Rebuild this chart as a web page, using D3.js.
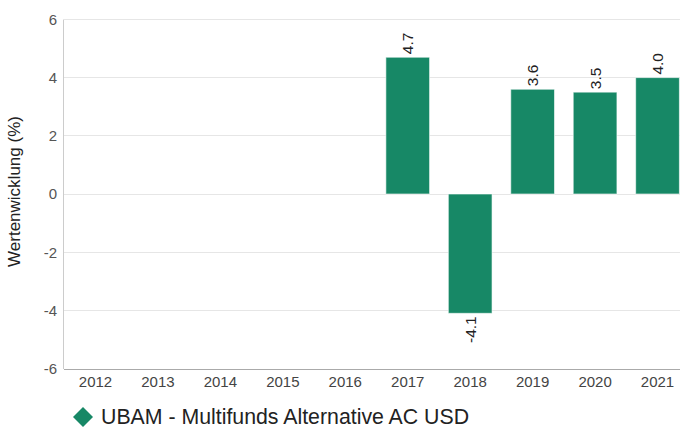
<!DOCTYPE html>
<html><head><meta charset="utf-8">
<script src="https://cdn.jsdelivr.net/npm/d3@7/dist/d3.min.js"></script>
<style>body{margin:0;background:#fff;}svg{display:block;font-family:"Liberation Sans",Arial,sans-serif;}</style>
</head><body>
<svg id="c" width="680" height="428"></svg>
<script>
const years = ["2012","2013","2014","2015","2016","2017","2018","2019","2020","2021"];
const values = [null,null,null,null,null,4.7,-4.1,3.6,3.5,4.0];
const yTicks = [-6,-4,-2,0,2,4,6];
const seriesName = "UBAM - Multifunds Alternative AC USD";
const yTitle = "Wertenwicklung (%)";
const color = "#178866";

const loc = d3.formatLocale({decimal: ".", thousands: ",", grouping: [3], currency: ["", ""], minus: "-"});
const svg = d3.select("#c");
const mLeft = 63, mRight = 690, mTop = 19.4, mBottom = 368.6;
const x = d3.scaleBand().domain(years).range([mLeft, mRight]).paddingInner(0.3).paddingOuter(0.17);
const y = d3.scaleLinear().domain([-6, 6]).range([mBottom, mTop]);

// gridlines
svg.append("g").selectAll("line").data(yTicks.filter(d => d !== -6)).join("line")
  .attr("x1", mLeft).attr("x2", 680).attr("y1", d => y(d)).attr("y2", d => y(d))
  .attr("stroke", "#e6e6e6").attr("stroke-width", 1).attr("shape-rendering", "crispEdges");

// y axis
const yAxis = svg.append("g").attr("transform", `translate(${mLeft},0)`)
  .call(d3.axisLeft(y).tickValues(yTicks).tickSize(0).tickPadding(6).tickFormat(loc.format("d")));
yAxis.select(".domain").attr("stroke", "#cccccc").attr("shape-rendering", "crispEdges");
yAxis.selectAll("text").attr("font-size", 15).attr("fill", "#555").attr("font-family", "Liberation Sans, Arial, sans-serif");

// x axis
const xAxis = svg.append("g").attr("transform", `translate(0,${mBottom})`)
  .call(d3.axisBottom(x).tickSize(0).tickPadding(8));
xAxis.select(".domain").attr("stroke", "#aaaaaa").attr("shape-rendering", "crispEdges");
xAxis.selectAll("text").attr("font-size", 15).attr("fill", "#444").attr("font-family", "Liberation Sans, Arial, sans-serif");

// bars
const data = years.map((yr, i) => ({yr, v: values[i]})).filter(d => d.v !== null);
svg.append("g").selectAll("rect").data(data).join("rect")
  .attr("x", d => x(d.yr)).attr("width", x.bandwidth())
  .attr("y", d => y(Math.max(0, d.v))).attr("height", d => Math.abs(y(d.v) - y(0)))
  .attr("fill", color).attr("stroke", "#ffffff").attr("stroke-opacity", 0.6).attr("stroke-width", 1);

// value labels
svg.append("g").selectAll("text").data(data).join("text")
  .attr("transform", d => {
    const cx = x(d.yr) + x.bandwidth() / 2;
    const yy = d.v >= 0 ? y(d.v) - 3 : y(d.v) + 3;
    return `translate(${cx},${yy}) rotate(-90)`;
  })
  .attr("text-anchor", d => d.v >= 0 ? "start" : "end")
  .attr("dy", "0.35em")
  .attr("font-size", 15.5).attr("fill", "#222")
  .text(d => loc.format(".1f")(d.v));

// y title
svg.append("text").attr("transform", `translate(20,191.5) rotate(-90)`)
  .attr("text-anchor", "middle").attr("font-size", 17).attr("fill", "#222").text(yTitle);

// legend
svg.append("path").attr("d", d3.symbol().type(d3.symbolDiamond2).size(255)())
  .attr("transform", "translate(83,417)").attr("fill", color);
svg.append("text").attr("x", 101).attr("y", 423.5).attr("font-size", 21.3).attr("fill", "#222").text(seriesName);
</script>
</body></html>
